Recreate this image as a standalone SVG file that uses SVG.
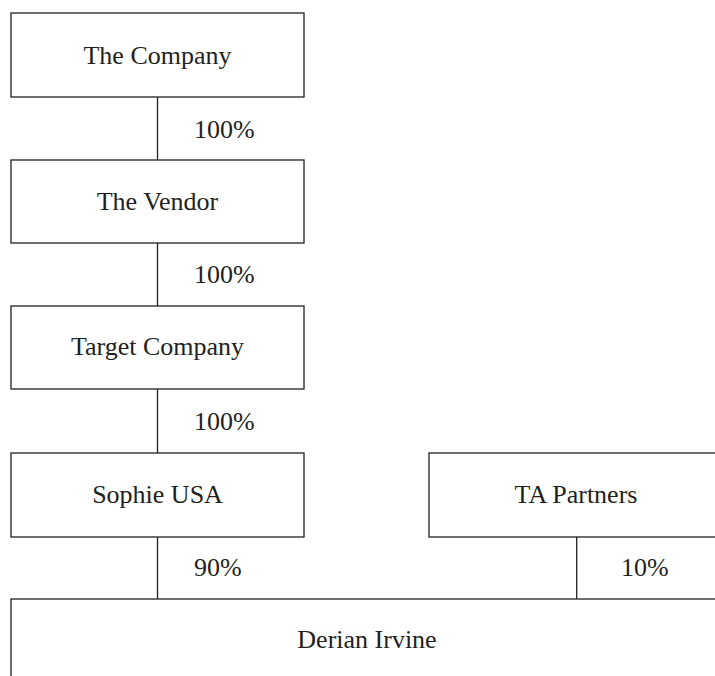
<svg xmlns="http://www.w3.org/2000/svg" width="715" height="676" viewBox="0 0 715 676">
<style>
.box{fill:#fff;stroke:#231f20;stroke-width:1.3}
.ln{stroke:#231f20;stroke-width:1.3;fill:none}
text{font-family:"Liberation Serif","Times New Roman",serif;font-size:26px;fill:#231f20}
.c{text-anchor:middle}
</style>
<rect width="715" height="676" fill="#fff"/>
<g id="connectors">
<line class="ln" x1="157.5" y1="97" x2="157.5" y2="160"/>
<line class="ln" x1="157.5" y1="243" x2="157.5" y2="306"/>
<line class="ln" x1="157.5" y1="389" x2="157.5" y2="453"/>
<line class="ln" x1="157.5" y1="537" x2="157.5" y2="599"/>
<line class="ln" x1="576.7" y1="537" x2="576.7" y2="599"/>
<text x="194" y="138">100%</text>
<text x="194" y="283">100%</text>
<text x="194" y="430">100%</text>
<text x="194" y="576">90%</text>
<text x="621" y="576">10%</text>
</g>
<g id="company">
<rect class="box" x="11" y="13" width="293" height="84"/>
<text class="c" x="157.5" y="64">The Company</text>
</g>
<g id="vendor">
<rect class="box" x="11" y="160" width="293" height="83"/>
<text class="c" x="157.5" y="210">The Vendor</text>
</g>
<g id="target">
<rect class="box" x="11" y="306" width="293" height="83"/>
<text class="c" x="157.5" y="355">Target Company</text>
</g>
<g id="sophie">
<rect class="box" x="11" y="453" width="293" height="84"/>
<text class="c" x="157.5" y="503">Sophie USA</text>
</g>
<g id="ta">
<rect class="box" x="429" y="453" width="296" height="84"/>
<text class="c" x="576" y="503">TA Partners</text>
</g>
<g id="derian">
<rect class="box" x="11" y="599" width="714" height="90"/>
<text class="c" x="367" y="648">Derian Irvine</text>
</g>
</svg>
